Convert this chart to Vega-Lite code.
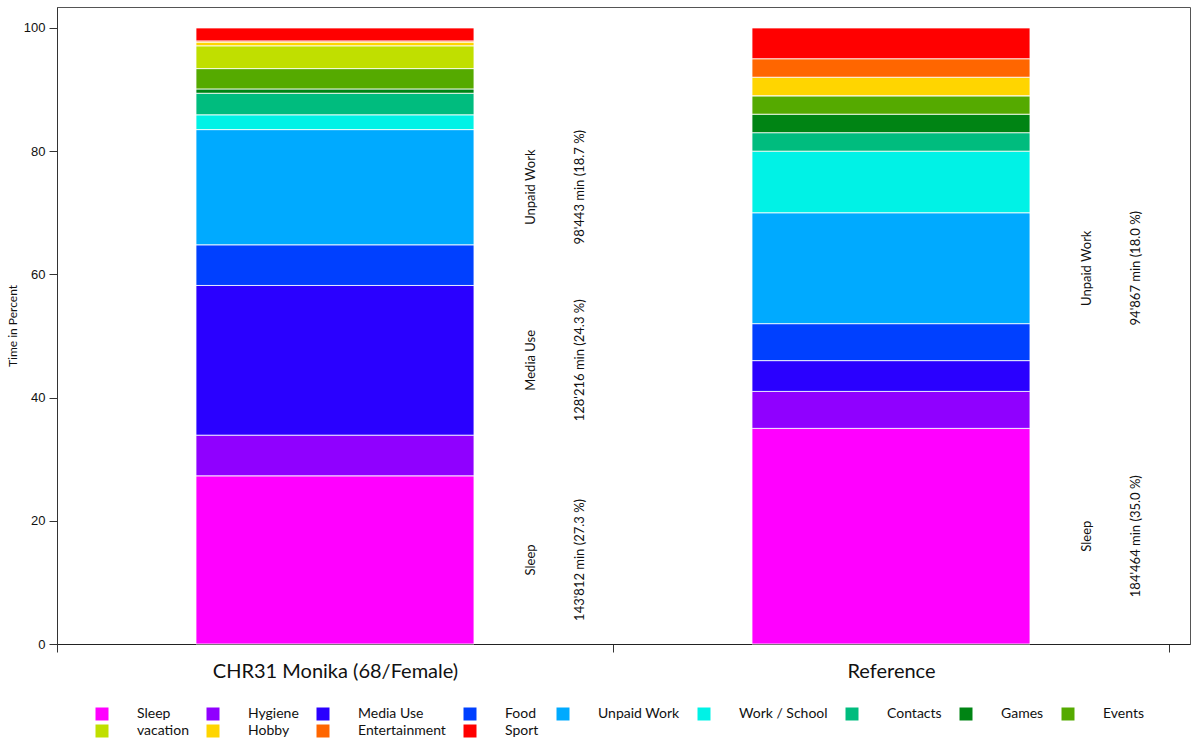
{
  "$schema": "https://vega.github.io/schema/vega-lite/v6.json",
  "width": 1133,
  "height": 637,
  "autosize": {"type": "none"},
  "padding": {"left": 57, "top": 7, "right": 2, "bottom": 96},
  "background": "white",
  "config": {
    "font": "Lato",
    "view": {"stroke": "#555", "strokeWidth": 1},
    "axis": {"domainColor": "#333", "tickColor": "#333", "labelColor": "#111", "titleColor": "#111", "grid": false}
  },
  "data": {
    "values": [
      {"subject": "CHR31 Monika (68/Female)", "activity": "Sleep", "pct": 27.3, "minutes": 143812},
      {"subject": "CHR31 Monika (68/Female)", "activity": "Hygiene", "pct": 6.6},
      {"subject": "CHR31 Monika (68/Female)", "activity": "Media Use", "pct": 24.3, "minutes": 128216},
      {"subject": "CHR31 Monika (68/Female)", "activity": "Food", "pct": 6.6},
      {"subject": "CHR31 Monika (68/Female)", "activity": "Unpaid Work", "pct": 18.7, "minutes": 98443},
      {"subject": "CHR31 Monika (68/Female)", "activity": "Work / School", "pct": 2.4},
      {"subject": "CHR31 Monika (68/Female)", "activity": "Contacts", "pct": 3.5},
      {"subject": "CHR31 Monika (68/Female)", "activity": "Games", "pct": 0.7},
      {"subject": "CHR31 Monika (68/Female)", "activity": "Events", "pct": 3.3},
      {"subject": "CHR31 Monika (68/Female)", "activity": "vacation", "pct": 3.7},
      {"subject": "CHR31 Monika (68/Female)", "activity": "Hobby", "pct": 0.6},
      {"subject": "CHR31 Monika (68/Female)", "activity": "Entertainment", "pct": 0.2},
      {"subject": "CHR31 Monika (68/Female)", "activity": "Sport", "pct": 2.1},
      {"subject": "Reference", "activity": "Sleep", "pct": 35.0, "minutes": 184464},
      {"subject": "Reference", "activity": "Hygiene", "pct": 6.0},
      {"subject": "Reference", "activity": "Media Use", "pct": 5.0},
      {"subject": "Reference", "activity": "Food", "pct": 6.0},
      {"subject": "Reference", "activity": "Unpaid Work", "pct": 18.0, "minutes": 94867},
      {"subject": "Reference", "activity": "Work / School", "pct": 10.0},
      {"subject": "Reference", "activity": "Contacts", "pct": 3.0},
      {"subject": "Reference", "activity": "Games", "pct": 3.0},
      {"subject": "Reference", "activity": "Events", "pct": 3.0},
      {"subject": "Reference", "activity": "vacation", "pct": 0.0},
      {"subject": "Reference", "activity": "Hobby", "pct": 3.0},
      {"subject": "Reference", "activity": "Entertainment", "pct": 3.0},
      {"subject": "Reference", "activity": "Sport", "pct": 5.0}
    ]
  },
  "transform": [
    {"calculate": "indexof(['Sleep','Hygiene','Media Use','Food','Unpaid Work','Work / School','Contacts','Games','Events','vacation','Hobby','Entertainment','Sport'], datum.activity)", "as": "rank"}
  ],
  "encoding": {
    "x": {
      "field": "subject",
      "type": "nominal",
      "sort": ["CHR31 Monika (68/Female)", "Reference"],
      "scale": {"paddingInner": 0, "paddingOuter": 0.0189, "align": 0},
      "axis": {
        "title": null,
        "labelAngle": 0,
        "labelFontSize": 20,
        "labelFont": "Lato",
        "labelPadding": 9,
        "labelLimit": 400,
        "tickSize": 8,
        "tickBand": "extent",
        "domainColor": "#222"
      }
    }
  },
  "layer": [
    {
      "mark": {"type": "bar", "width": {"band": 0.5}, "stroke": "white", "strokeWidth": 1, "strokeOpacity": 0.8},
      "encoding": {
        "y": {
          "field": "pct",
          "type": "quantitative",
          "stack": "zero",
          "scale": {"domain": [0, 103.4], "nice": false},
          "axis": {
            "title": "Time in Percent",
            "titleFont": "Lato",
            "titleFontSize": 12,
            "titleFontWeight": "normal",
            "titlePadding": 4,
            "values": [0, 20, 40, 60, 80, 100],
            "labelFont": "Liberation Sans",
            "labelFontSize": 13,
            "labelPadding": 4,
            "tickSize": 8
          }
        },
        "order": {"field": "rank", "type": "quantitative"},
        "color": {
          "field": "activity",
          "type": "nominal",
          "sort": ["Sleep", "Hygiene", "Media Use", "Food", "Unpaid Work", "Work / School", "Contacts", "Games", "Events", "vacation", "Hobby", "Entertainment", "Sport"],
          "scale": {
            "domain": ["Sleep", "Hygiene", "Media Use", "Food", "Unpaid Work", "Work / School", "Contacts", "Games", "Events", "vacation", "Hobby", "Entertainment", "Sport"],
            "range": ["#FF00FF", "#9000FF", "#2A00FF", "#0040FF", "#00AAFF", "#00F2E6", "#00BC7E", "#008414", "#55AA00", "#C0DF00", "#FFD500", "#FF6600", "#FF0000"]
          },
          "legend": {
            "title": null,
            "orient": "none",
            "legendX": 38,
            "legendY": 700,
            "direction": "horizontal",
            "columns": 9,
            "symbolType": "square",
            "symbolSize": 169,
            "symbolStrokeWidth": 0,
            "labelFont": "Lato",
            "labelFontSize": 14,
            "labelColor": "#111",
            "labelOffset": 28,
            "columnPadding": 17,
            "rowPadding": 3
          }
        }
      }
    },
    {
      "transform": [
        {"stack": "pct", "groupby": ["subject"], "sort": [{"field": "rank", "order": "ascending"}], "as": ["y0", "y1"]},
        {"calculate": "(datum.y0 + datum.y1) / 2", "as": "mid"},
        {"filter": "isValid(datum.minutes)"}
      ],
      "mark": {"type": "text", "angle": 270, "align": "center", "baseline": "middle", "dy": 196, "fontSize": 13, "font": "Lato", "color": "#111"},
      "encoding": {
        "y": {"field": "mid", "type": "quantitative", "title": "Time in Percent"},
        "text": {"field": "activity"}
      }
    },
    {
      "transform": [
        {"stack": "pct", "groupby": ["subject"], "sort": [{"field": "rank", "order": "ascending"}], "as": ["y0", "y1"]},
        {"calculate": "(datum.y0 + datum.y1) / 2", "as": "mid"},
        {"filter": "isValid(datum.minutes)"},
        {"calculate": "replace(format(datum.minutes, ','), ',', \"'\") + ' min (' + format(datum.pct, '.1f') + ' %)'", "as": "detail"}
      ],
      "mark": {"type": "text", "angle": 270, "align": "center", "baseline": "middle", "dy": 245, "fontSize": 13, "font": "Lato", "color": "#111"},
      "encoding": {
        "y": {"field": "mid", "type": "quantitative", "title": "Time in Percent"},
        "text": {"field": "detail"}
      }
    }
  ]
}
